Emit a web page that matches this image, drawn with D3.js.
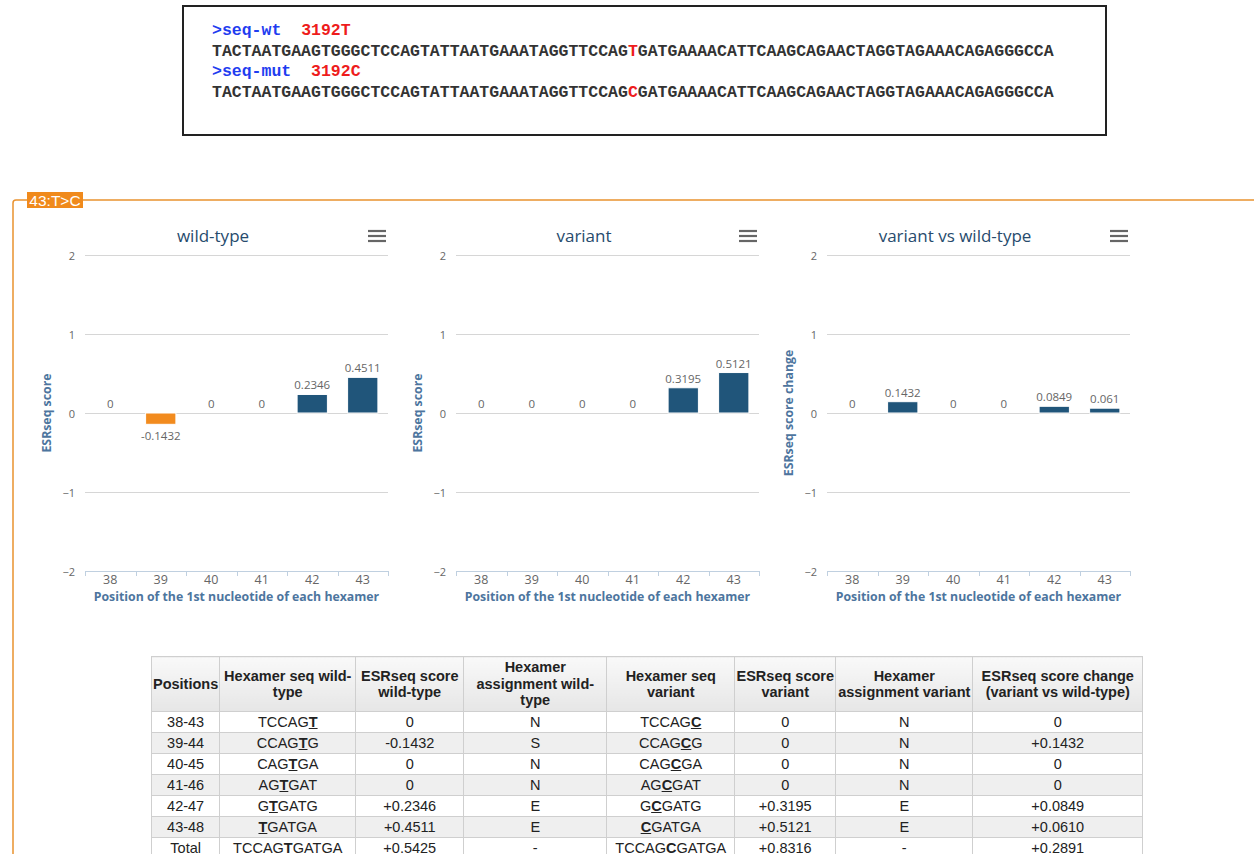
<!DOCTYPE html>
<html>
<head>
<meta charset="utf-8">
<script src="https://cdn.jsdelivr.net/npm/d3@7"></script>
<style>
  body { margin: 0; background: #fff; }
  #page { position: relative; width: 1254px; height: 854px; overflow: hidden; }
  #main { position: absolute; left: 0; top: 0; }
  #tbl { position: absolute; left: 151px; top: 656px; }
  table { border-collapse: collapse; font-family: "Liberation Sans", Arial, sans-serif; font-size: 14.5px; color: #222; table-layout: fixed; }
  th, td { border: 1px solid #cfcfcf; text-align: center; padding: 0 1px; overflow: hidden; }
  th { background: linear-gradient(#f9f9f9, #e6e6e6); font-weight: bold; height: 54px; line-height: 16.5px; }
  td { height: 20px; line-height: 20px; white-space: nowrap; }
  tr.alt td { background: #efefef; }
  td u { font-weight: bold; }
</style>
</head>
<body>
<div id="page">
  <svg id="main" width="1254" height="854"></svg>
  <div id="tbl"></div>
</div>
<script>
// data
var positions = ["38", "39", "40", "41", "42", "43"];
var wildType = [0, -0.1432, 0, 0, 0.2346, 0.4511];
var variant = [0, 0, 0, 0, 0.3195, 0.5121];
var change = [0, 0.1432, 0, 0, 0.0849, 0.061];
var yTicks = [-2, -1, 0, 1, 2];
var chartTitles = ["wild-type", "variant", "variant vs wild-type"];
var yTitles = ["ESRseq score", "ESRseq score", "ESRseq score change"];
var xTitle = "Position of the 1st nucleotide of each hexamer";

var ranges = ["38-43", "39-44", "40-45", "41-46", "42-47", "43-48"];
var wtHexamers = ["TCCAGT", "CCAGTG", "CAGTGA", "AGTGAT", "GTGATG", "TGATGA"];
var varHexamers = ["TCCAGC", "CCAGCG", "CAGCGA", "AGCGAT", "GCGATG", "CGATGA"];
var wtAssign = ["N", "S", "N", "N", "E", "E"];
var varAssign = ["N", "N", "N", "N", "E", "E"];
var mutIndex = [5, 4, 3, 2, 1, 0];
var wtTotalSeq = "TCCAGTGATGA", varTotalSeq = "TCCAGCGATGA";

var wtSeq = "TACTAATGAAGTGGGCTCCAGTATTAATGAAATAGGTTCCAGTGATGAAAACATTCAAGCAGAACTAGGTAGAAACAGAGGGCCA";
var mutSeq = "TACTAATGAAGTGGGCTCCAGTATTAATGAAATAGGTTCCAGCGATGAAAACATTCAAGCAGAACTAGGTAGAAACAGAGGGCCA";
var mutPos = 43;
var headerLabels = [[">seq-wt", "3192T"], [">seq-mut", "3192C"]];

var svg = d3.select("#main");

// sequence box
svg.append("rect")
  .attr("x", 183).attr("y", 6).attr("width", 923).attr("height", 129)
  .attr("fill", "none").attr("stroke", "#222").attr("stroke-width", 2);

var seqs = [wtSeq, mutSeq];
seqs.forEach(function (s, i) {
  var top = 35 + i * 41;
  var h = svg.append("text")
    .attr("x", 212).attr("y", top)
    .attr("xml:space", "preserve")
    .style("font-family", "'Liberation Mono', 'Courier New', monospace")
    .style("font-size", "16.5px").style("font-weight", "bold");
  h.append("tspan").attr("fill", "#1f3df0").text(headerLabels[i][0] + "  ");
  h.append("tspan").attr("fill", "#ee1c1c").text(headerLabels[i][1]);

  var t = svg.append("text")
    .attr("x", 212).attr("y", top + 21)
    .style("font-family", "'Liberation Mono', 'Courier New', monospace")
    .style("font-size", "16.5px").style("font-weight", "bold").attr("fill", "#333");
  t.append("tspan").text(s.slice(0, mutPos - 1));
  t.append("tspan").attr("fill", "#ee1c1c").text(s.charAt(mutPos - 1));
  t.append("tspan").text(s.slice(mutPos));
});

// orange frame + label
svg.append("path")
  .attr("d", "M13,854 V203 Q13,200 16,200 H1254")
  .attr("fill", "none").attr("stroke", "#e9922f").attr("stroke-width", 1.5);
svg.append("rect")
  .attr("x", 27).attr("y", 192).attr("width", 56).attr("height", 16)
  .attr("fill", "#f08a1c");
svg.append("text")
  .attr("x", 55).attr("y", 205.5).attr("text-anchor", "middle")
  .style("font-family", "'Liberation Sans', Arial, sans-serif")
  .style("font-size", "15.5px").attr("fill", "#fff")
  .text("43:T>C");

// three bar charts
var series = [wildType, variant, change];
var plotTop = 255, plotBottom = 571, plotW = 303;
var font = "'Open Sans', 'DejaVu Sans', sans-serif";

series.forEach(function (vals, i) {
  var left = 85 + i * 371;
  var g = svg.append("g");

  var x = d3.scaleBand()
    .domain(positions)
    .range([left, left + plotW])
    .paddingInner(0.4).paddingOuter(0.2);
  var y = d3.scaleLinear().domain([-2, 2]).range([plotBottom, plotTop]);

  // title
  g.append("text")
    .attr("x", left + 128).attr("y", 242)
    .attr("text-anchor", "middle")
    .style("font-family", font).style("font-size", "17px")
    .attr("fill", "#274b6d")
    .text(chartTitles[i]);

  // menu icon
  [231, 236, 241].forEach(function (yy) {
    g.append("line")
      .attr("x1", left + 283).attr("x2", left + 301)
      .attr("y1", yy).attr("y2", yy)
      .attr("stroke", "#666").attr("stroke-width", 2.2);
  });

  // gridlines
  g.selectAll(".grid")
    .data(yTicks)
    .enter().append("line")
    .attr("x1", left).attr("x2", left + plotW)
    .attr("y1", function (d) { return Math.round(y(d)) + 0.5; })
    .attr("y2", function (d) { return Math.round(y(d)) + 0.5; })
    .attr("stroke", "#d6d6d6");

  // y axis
  var ya = g.append("g")
    .attr("transform", "translate(" + (left - 1) + ",0)")
    .call(d3.axisLeft(y).tickValues(yTicks).tickFormat(d3.format("d")).tickSize(0).tickPadding(9));
  ya.select(".domain").remove();
  ya.selectAll("text")
    .style("font-family", font).style("font-size", "11px")
    .attr("fill", "#666").attr("dy", "0.45em");

  // y title
  g.append("text")
    .attr("transform", "translate(" + (left - 34) + "," + y(0) + ") rotate(-90)")
    .attr("text-anchor", "middle")
    .style("font-family", font).style("font-size", "12.3px").style("font-weight", "bold")
    .attr("fill", "#4d759e")
    .text(yTitles[i]);

  // x axis
  var xa = g.append("g")
    .attr("transform", "translate(0," + plotBottom + ")")
    .call(d3.axisBottom(x).tickSize(0).tickPadding(4));
  xa.select(".domain").remove();
  xa.selectAll("text")
    .style("font-family", font).style("font-size", "12.5px")
    .attr("fill", "#666");
  g.append("line")
    .attr("x1", left).attr("x2", left + plotW)
    .attr("y1", plotBottom + 0.5).attr("y2", plotBottom + 0.5)
    .attr("stroke", "#c0d0e0");
  var half = (x.step() - x.bandwidth()) / 2;
  var edges = positions.map(function (p) { return x(p) - half; });
  edges.push(left + plotW);
  g.selectAll(".tick-edge")
    .data(edges)
    .enter().append("line")
    .attr("x1", function (d) { return Math.round(d) + 0.5; })
    .attr("x2", function (d) { return Math.round(d) + 0.5; })
    .attr("y1", plotBottom).attr("y2", plotBottom + 5)
    .attr("stroke", "#c0d0e0");

  g.append("text")
    .attr("x", left + plotW / 2).attr("y", 601)
    .attr("text-anchor", "middle")
    .style("font-family", font).style("font-size", "12.3px").style("font-weight", "bold")
    .attr("fill", "#4d759e")
    .text(xTitle);

  // bars
  g.selectAll(".bar")
    .data(vals)
    .enter().append("rect")
    .attr("x", function (d, j) { return x(positions[j]); })
    .attr("y", function (d) { return y(Math.max(0, d)); })
    .attr("width", x.bandwidth())
    .attr("height", function (d) { return Math.abs(y(d) - y(0)); })
    .attr("fill", function (d) { return d < 0 ? "#f28b1e" : "#20557a"; })
    .attr("stroke", "#fff").attr("stroke-width", 1);

  // data labels
  g.selectAll(".lbl")
    .data(vals)
    .enter().append("text")
    .attr("x", function (d, j) { return x(positions[j]) + x.bandwidth() / 2; })
    .attr("y", function (d) { return d < 0 ? y(d) + 16 : y(d) - 5; })
    .attr("text-anchor", "middle")
    .style("font-family", font).style("font-size", "11.5px")
    .attr("fill", "#666")
    .text(function (d) { return String(d); });
});

// table
function fmt(v) {
  if (v === 0) return "0";
  return (v > 0 ? "+" : "") + v.toFixed(4);
}
function hexHtml(s, k) {
  return s.slice(0, k) + "<u>" + s.charAt(k) + "</u>" + s.slice(k + 1);
}

var colWidths = [67, 136, 108, 143, 128, 101, 137, 170];
var headers = ["Positions", "Hexamer seq wild-type", "ESRseq score wild-type",
  "Hexamer assignment wild-type", "Hexamer seq variant", "ESRseq score variant",
  "Hexamer assignment variant", "ESRseq score change (variant vs wild-type)"];

var rows = positions.map(function (p, j) {
  return [ranges[j], hexHtml(wtHexamers[j], mutIndex[j]), fmt(wildType[j]), wtAssign[j],
    hexHtml(varHexamers[j], mutIndex[j]), fmt(variant[j]), varAssign[j], fmt(change[j])];
});
rows.push(["Total", hexHtml(wtTotalSeq, 5), fmt(+d3.sum(wildType).toFixed(4)), "-",
  hexHtml(varTotalSeq, 5), fmt(+d3.sum(variant).toFixed(4)), "-", fmt(+d3.sum(change).toFixed(4))]);

var table = d3.select("#tbl").append("table");
table.append("colgroup").selectAll("col")
  .data(colWidths).enter().append("col")
  .style("width", function (d) { return d + "px"; });
table.append("thead").append("tr").selectAll("th")
  .data(headers).enter().append("th")
  .text(function (d) { return d; });
table.append("tbody").selectAll("tr")
  .data(rows).enter().append("tr")
  .attr("class", function (d, j) { return j % 2 === 1 ? "alt" : null; })
  .selectAll("td")
  .data(function (d) { return d; })
  .enter().append("td")
  .html(function (d) { return d; });
</script>
</body>
</html>
